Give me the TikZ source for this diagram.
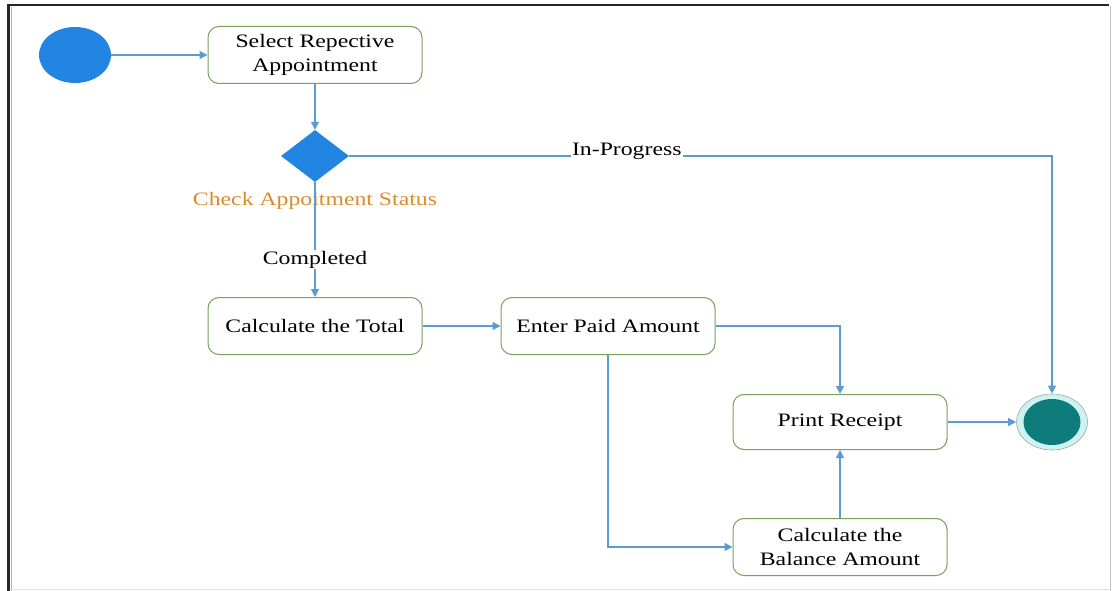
\documentclass[tikz,border=0pt]{standalone}
\usepackage{fontspec}
\setmainfont{Liberation Serif}[FakeStretch=1.25]
\usetikzlibrary{arrows.meta,shapes.geometric}

\definecolor{nodeblue}{HTML}{2385E2}
\definecolor{flowblue}{HTML}{5B9BD5}
\definecolor{actgreen}{HTML}{7BA05B}
\definecolor{guardorange}{HTML}{D98C2E}
\definecolor{finalteal}{HTML}{0E7C7B}
\definecolor{finalring}{HTML}{CCF2F2}

\tikzset{
  act/.style={draw=actgreen, line width=1pt, rounded corners=11pt, fill=white,
    minimum width=214pt, minimum height=57pt, align=center, inner sep=0pt,
    font=\fontsize{19}{24}\selectfont},
  flow/.style={draw=flowblue, line width=1.2pt, -{Triangle[length=8pt,width=8pt]}},
  guard/.style={font=\fontsize{19}{24}\selectfont, fill=white, inner sep=1pt},
}

\begin{document}
\begin{tikzpicture}[x=1pt,y=-1pt]
\useasboundingbox (0,0) rectangle (1112,591);

% page frame
\draw[black!85, line width=2.6pt] (8.5,591) -- (8.5,5) -- (1109,5);
\draw[gray!60, line width=0.9pt] (11.5,591) -- (11.5,7.5);
\draw[gray!45, line width=1pt] (1110.5,6) -- (1110.5,591);
\draw[gray!25, line width=1pt] (10,589) -- (1110,589);

% initial node
\node[ellipse, fill=nodeblue, minimum width=72pt, minimum height=56pt, inner sep=0pt] (start) at (75,55) {};

% activities
\node[act] (sel) at (315,55) {Select Repective\\Appointment};
\node[act] (tot) at (315,326) {Calculate the Total};
\node[act] (paid) at (608,326) {Enter Paid Amount};
\node[act, minimum height=55pt] (prt) at (840,422) {Print Receipt};
\node[act] (bal) at (840,547) {Calculate the\\Balance Amount};

% decision
\node[diamond, fill=nodeblue, minimum width=68pt, minimum height=52pt, inner sep=0pt] (dec) at (315,156) {};
\node[text=guardorange, font=\fontsize{19}{24}\selectfont] (declbl) at (315,201) {Check Appoitment Status};

% final node
\node[ellipse, draw=gray!70, line width=0.6pt, fill=finalring, minimum width=71pt, minimum height=56pt, inner sep=0pt] (fin) at (1052,422) {};
\node[ellipse, fill=finalteal, minimum width=57pt, minimum height=46pt, inner sep=0pt] (fincore) at (fin.center) {};

% flows
\draw[flow] (start) -- (sel);
\draw[flow] (sel) -- (dec);
\draw[flow] (dec.east) -- node[guard, pos=0.395, anchor=base] {In-Progress} (fin.north |- dec.east) -- (fin.north);
\draw[flow] (dec.south) -- node[guard, pos=0.675] {Completed} (tot.north);
\draw[flow] (tot) -- (paid);
\draw[flow] (paid.east) -| (prt.north);
\draw[flow] (paid.south) |- (bal.west);
\draw[flow] (bal) -- (prt);
\draw[flow] (prt) -- (fin);
\end{tikzpicture}
\end{document}
